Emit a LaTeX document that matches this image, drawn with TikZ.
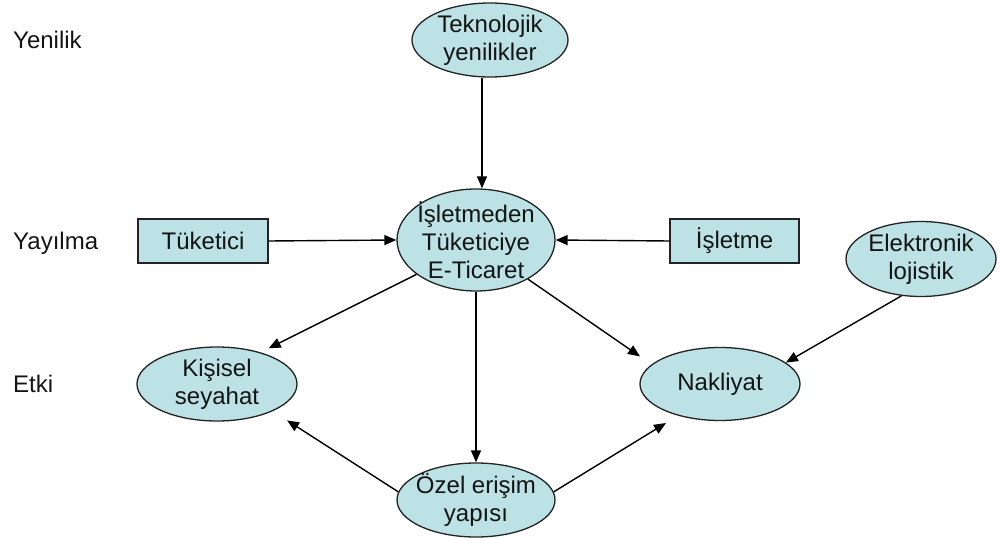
\documentclass[tikz,border=0pt]{standalone}
\usepackage{fontspec}
\setmainfont{Liberation Sans}
\usetikzlibrary{shapes.geometric,arrows.meta}
\definecolor{nodefill}{RGB}{188,226,229}
\definecolor{edgeline}{RGB}{35,35,35}
\begin{document}
\begin{tikzpicture}[x=1pt,y=-1pt,
  every node/.style={font=\fontsize{24}{28}\selectfont, text=black!92},
  oval/.style={ellipse, draw=edgeline, line width=1.3pt, fill=nodefill, inner sep=0pt},
  box/.style={rectangle, draw=edgeline, line width=1.3pt, fill=nodefill, inner sep=0pt,
              minimum width=130pt, minimum height=44pt},
  inoval/.style={align=center, inner sep=0pt},
  link/.style={line width=1.4pt, draw=black, -{Triangle[length=12pt,width=10pt]}},
  rowlabel/.style={anchor=base west, inner sep=0pt}]
\useasboundingbox (0,0) rectangle (1004,540);

% level captions on the left
\node[rowlabel] (lvlA) at (13,49)  {Yenilik};
\node[rowlabel] (lvlB) at (13,249) {Yayılma};
\node[rowlabel] (lvlC) at (13,392) {Etki};

% nodes
\node[oval, minimum width=156pt, minimum height=74pt,
      label={[inoval]center:Teknolojik\\yenilikler}] (tech) at (490,40) {};
\node[oval, minimum width=158pt, minimum height=102pt,
      label={[inoval]center:İşletmeden\\Tüketiciye\\E-Ticaret}] (b2c) at (476,240) {};
\node[box] (cons) at (203,241) {Tüketici};
\node[box, minimum width=129pt] (firm) at (734.5,241) {İşletme};
\node[oval, minimum width=150pt, minimum height=75pt,
      label={[inoval]center:Elektronik\\lojistik}] (elog) at (921,259) {};
\node[oval, minimum width=160pt, minimum height=74pt,
      label={[inoval]center:Kişisel\\seyahat}] (travel) at (217,384) {};
\node[oval, minimum width=160pt, minimum height=73pt,
      label={[inoval]center:Nakliyat}] (freight) at (720,384) {};
\node[oval, minimum width=158pt, minimum height=74pt,
      label={[inoval]center:Özel erişim\\yapısı}] (access) at (476,500) {};

% connectors
\draw[link] ([xshift=-8pt]tech.south) -- ([xshift=6pt]b2c.north);
\draw[link] (cons.east) -- (b2c.west);
\draw[link] (firm.west) -- (b2c.east);
\draw[link, shorten >=9pt] (b2c.210) -- (travel.36);
\draw[link, shorten >=14pt] (b2c.323) -- (freight.164);
\draw[link] (b2c.south) -- (access.north);
\draw[link] (elog.242) -- (freight.18);
\draw[link, shorten >=17pt] (access.174) -- (travel.334);
\draw[link, shorten >=14pt] (access.6) -- (freight.217);
\end{tikzpicture}
\end{document}
